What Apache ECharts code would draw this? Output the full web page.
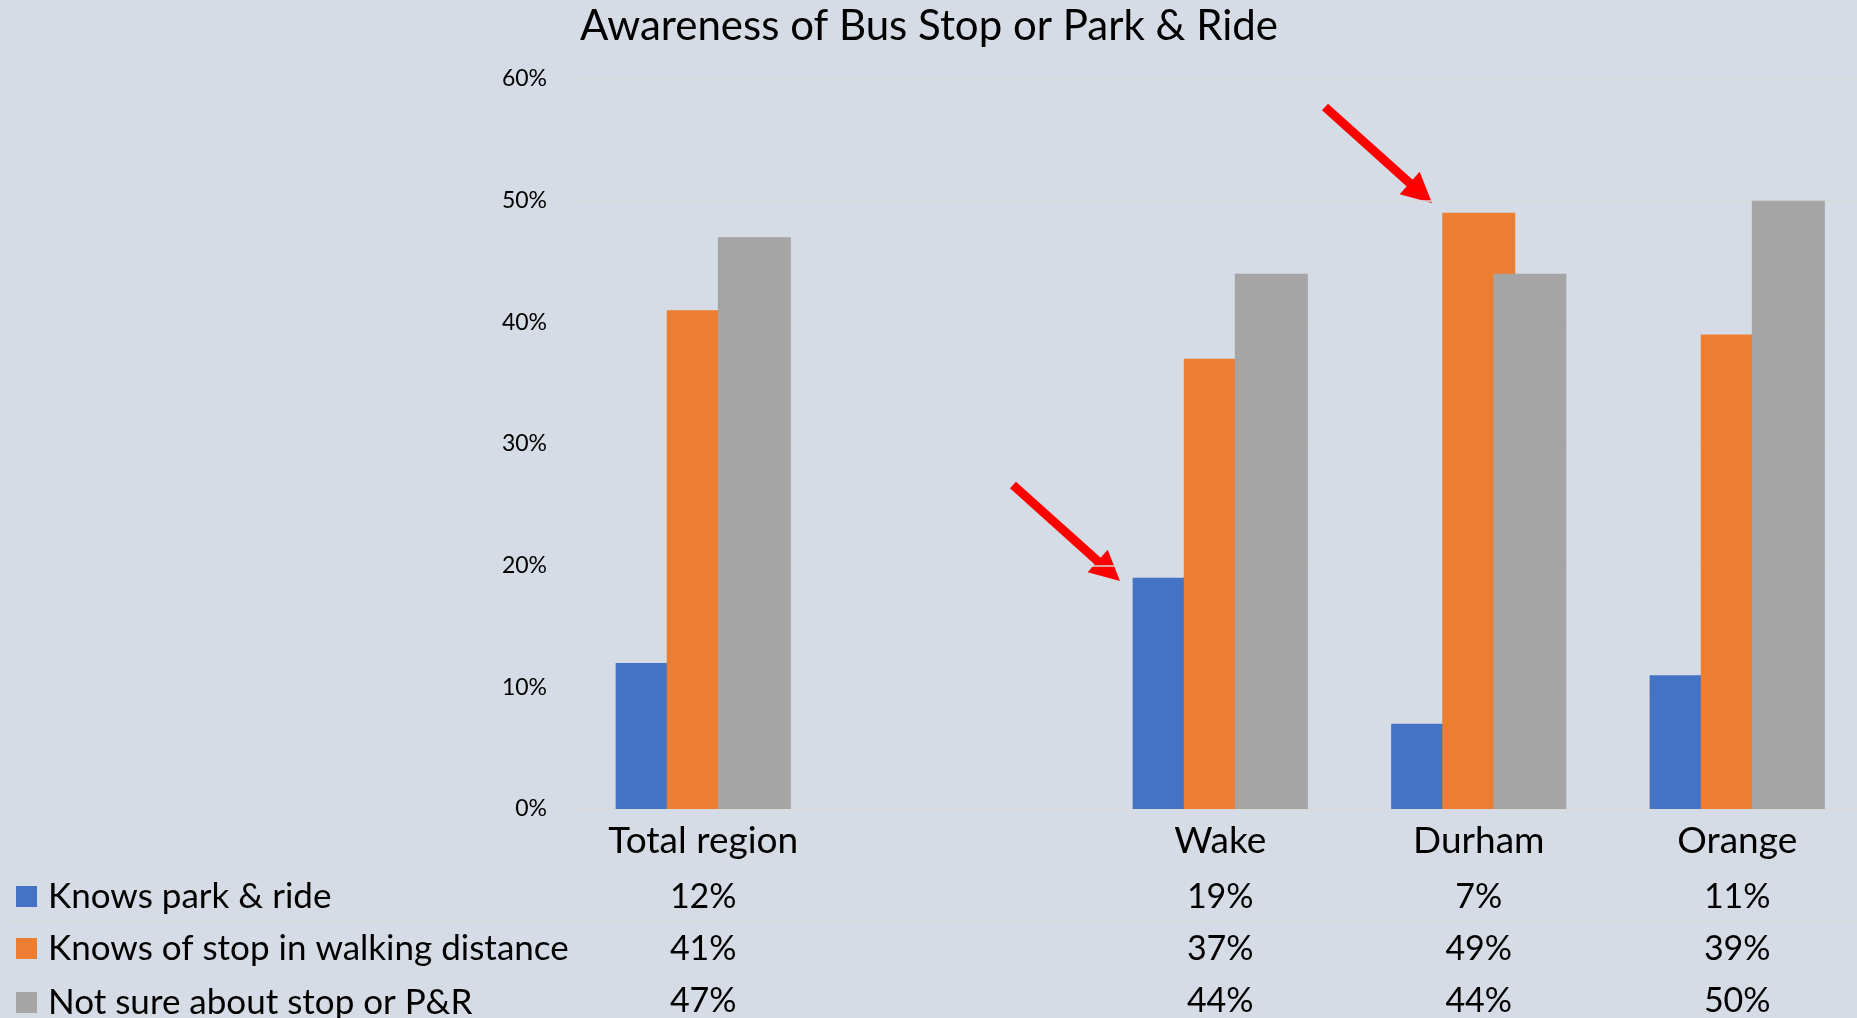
<!DOCTYPE html>
<html lang="en-US">
  <head>
    <meta charset="utf-8">
    <title>Awareness of Bus Stop or Park &amp; Ride</title>
    <script src="https://cdn.jsdelivr.net/npm/echarts@6/dist/echarts.min.js"></script>
    <style>
      html, body { margin: 0; padding: 0; background: #d6dce5; overflow: hidden; }
      /* plot runs past the right edge of the window in the source, so the canvas is wider */
      #chart { width: 1880px; height: 1018px; }
    </style>
  </head>
  <body>
    <div id="chart"></div>
    <script type="text/javascript">
      // data (percent); the empty second column is a spacer, as in the source sheet
      var regions = ['Total region', '', 'Wake', 'Durham', 'Orange'];
      var seriesNames = ['Knows park & ride', 'Knows of stop in walking distance', 'Not sure about stop or P&R'];
      var parkRide = [12, null, 19, 7, 11];
      var walkStop = [41, null, 37, 49, 39];
      var notSure  = [47, null, 44, 44, 50];
      var yTicks = [0, 10, 20, 30, 40, 50, 60];

      var colors = ['#4472c4', '#ed7d31', '#a5a5a5'];
      var values = [parkRide, walkStop, notSure];
      var font = 'Lato';

      var chart = echarts.init(document.getElementById('chart'));

      // one hidden category axis per data-table row, label = value
      var rowOffsets = [88, 140, 192];
      var xAxes = [{
        type: 'category',
        data: regions,
        axisLine: { lineStyle: { color: '#d9d9d9', width: 1 } },
        axisTick: { show: false },
        axisLabel: { interval: 0, margin: 32, verticalAlign: 'middle', color: '#000', fontFamily: font, fontSize: 37 }
      }];
      for (var i = 0; i < values.length; i++) {
        (function (vals, off) {
          xAxes.push({
            type: 'category',
            data: regions,
            position: 'bottom',
            offset: off,
            axisLine: { show: false },
            axisTick: { show: false },
            axisLabel: {
              interval: 0, margin: 0, verticalAlign: 'middle',
              color: '#000', fontFamily: font, fontSize: 34,
              formatter: function (v, idx) { return vals[idx] == null ? '' : vals[idx] + '%'; }
            }
          });
        })(values[i], rowOffsets[i]);
      }

      var rowTops = [879, 931, 985];
      var legends = seriesNames.map(function (n, i) {
        return {
          data: [n], left: 16, top: rowTops[i], padding: 0, icon: 'rect',
          itemWidth: 21, itemHeight: 21, selectedMode: false,
          textStyle: { color: '#000', fontFamily: font, fontSize: 35, padding: [0, 0, 0, 6] }
        };
      });

      function arrow(x1, y1, x2, y2) {
        var dx = x2 - x1, dy = y2 - y1, len = Math.sqrt(dx * dx + dy * dy);
        var ux = dx / len, uy = dy / len, px = -uy, py = ux;
        var hl = 30, hw = 15;
        var bx = x2 - ux * hl, by = y2 - uy * hl;
        return [{
          type: 'line', shape: { x1: x1, y1: y1, x2: bx + ux * 2, y2: by + uy * 2 },
          style: { stroke: '#ff0000', lineWidth: 9 }
        }, {
          type: 'polygon',
          shape: { points: [[x2, y2], [bx + px * hw, by + py * hw], [bx - px * hw, by - py * hw]] },
          style: { fill: '#ff0000' }
        }];
      }

      var tableLines = [921, 973].map(function (y) {
        return { type: 'line', shape: { x1: 8, y1: y, x2: 1880, y2: y }, style: { stroke: '#d9d9d9', lineWidth: 1.5 } };
      });

      chart.setOption({
        backgroundColor: '#d6dce5',
        animation: false,
        title: {
          text: 'Awareness of Bus Stop or Park & Ride',
          left: 575, top: 0, padding: 5,
          textStyle: { color: '#000', fontFamily: font, fontSize: 42, fontWeight: 'normal' }
        },
        legend: legends,
        grid: { left: 574, top: 79, width: 1292.5, height: 730, containLabel: false, outerBoundsMode: 'none' },
        xAxis: xAxes,
        yAxis: {
          type: 'value', min: yTicks[0], max: yTicks[yTicks.length - 1], interval: 10,
          axisLine: { show: false }, axisTick: { show: false },
          axisLabel: { formatter: '{value}%', margin: 27, color: '#000', fontFamily: font, fontSize: 23 },
          splitLine: { lineStyle: { color: '#d9d9d9', width: 1.5 } }
        },
        series: seriesNames.map(function (n, i) {
          return {
            name: n, type: 'bar', data: values[i],
            barWidth: 73, barGap: '-30%',
            itemStyle: { color: colors[i] }
          };
        }),
        graphic: tableLines.concat(arrow(1013, 485, 1120, 581), arrow(1325, 107, 1432, 203))
      });
    </script>
  </body>
</html>
